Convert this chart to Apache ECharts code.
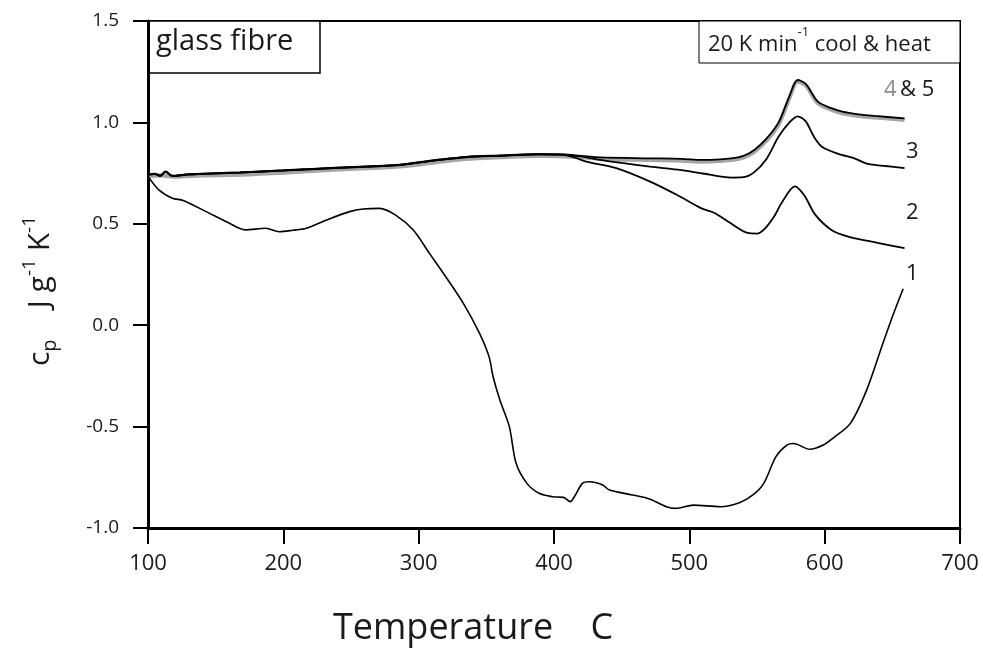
<!DOCTYPE html>
<html>
<head>
<meta charset="utf-8">
<script src="https://cdn.jsdelivr.net/npm/echarts@6/dist/echarts.min.js"></script>
<style>
  html, body { margin: 0; padding: 0; background: #fff; }
  #main { width: 983px; height: 655px; }
</style>
</head>
<body>
<div id="main"></div>
<script>
// run 1 (first heat)
var run1T = [100, 108, 118, 126, 143, 158, 172, 187, 197, 207, 217, 232, 249, 259, 271, 283, 296, 308, 320, 333, 345, 352, 355, 360, 367, 372, 380, 389, 399, 407, 412, 415, 421, 426, 436, 441, 458, 471, 483, 490, 503, 523, 537, 547, 555, 564, 572, 577, 589, 599, 606, 619, 631, 643, 651, 658];
var run1Cp = [0.735, 0.667, 0.626, 0.615, 0.560, 0.510, 0.470, 0.478, 0.461, 0.468, 0.478, 0.519, 0.560, 0.573, 0.576, 0.543, 0.469, 0.354, 0.239, 0.108, -0.040, -0.155, -0.254, -0.369, -0.500, -0.681, -0.780, -0.829, -0.846, -0.849, -0.870, -0.846, -0.780, -0.772, -0.788, -0.813, -0.837, -0.858, -0.895, -0.903, -0.887, -0.895, -0.875, -0.837, -0.780, -0.648, -0.591, -0.583, -0.612, -0.591, -0.558, -0.484, -0.320, -0.090, 0.059, 0.180];

// run 2
var run2T = [100, 105, 109, 113, 118, 130, 150, 168, 200, 242, 286, 316, 335, 360, 389, 407, 415, 424, 446, 471, 491, 509, 519, 530, 543, 550, 556, 563, 568, 578, 585, 593, 605, 618, 640, 659];
var run2Cp = [0.741, 0.745, 0.735, 0.757, 0.735, 0.742, 0.748, 0.752, 0.762, 0.776, 0.790, 0.815, 0.828, 0.835, 0.842, 0.840, 0.828, 0.806, 0.774, 0.708, 0.642, 0.576, 0.552, 0.505, 0.455, 0.452, 0.478, 0.540, 0.601, 0.685, 0.640, 0.545, 0.470, 0.436, 0.405, 0.380];

// run 3
var run3T = [100, 105, 109, 113, 118, 130, 150, 168, 200, 242, 286, 316, 335, 360, 389, 407, 420, 434, 450, 471, 494, 510, 531, 540, 548, 557, 566, 574, 580, 586, 592, 598, 610, 622, 632, 645, 659];
var run3Cp = [0.742, 0.746, 0.737, 0.756, 0.736, 0.744, 0.749, 0.753, 0.763, 0.777, 0.791, 0.816, 0.829, 0.836, 0.843, 0.841, 0.832, 0.815, 0.800, 0.782, 0.765, 0.748, 0.728, 0.730, 0.755, 0.820, 0.930, 1.000, 1.030, 1.005, 0.930, 0.880, 0.845, 0.823, 0.795, 0.785, 0.775];

// run 4 (grey) and run 5 (black)
var run4T = [100, 110, 120, 140, 170, 200, 242, 286, 316, 335, 360, 389, 407, 420, 434, 471, 494, 510, 531, 540, 548, 557, 566, 574, 580, 586, 595, 605, 613, 625, 637, 659];
var run4Cp = [0.735, 0.738, 0.732, 0.738, 0.742, 0.752, 0.768, 0.782, 0.806, 0.820, 0.828, 0.834, 0.832, 0.828, 0.820, 0.814, 0.811, 0.806, 0.814, 0.826, 0.855, 0.910, 0.990, 1.120, 1.200, 1.182, 1.094, 1.062, 1.045, 1.032, 1.024, 1.012];
var run5T = [100, 105, 109, 113, 118, 130, 150, 168, 200, 242, 286, 316, 335, 360, 389, 407, 420, 434, 471, 494, 510, 531, 540, 548, 557, 566, 574, 580, 586, 595, 605, 613, 625, 637, 659];
var run5Cp = [0.743, 0.747, 0.738, 0.758, 0.737, 0.745, 0.750, 0.754, 0.764, 0.778, 0.792, 0.817, 0.830, 0.837, 0.844, 0.842, 0.835, 0.828, 0.823, 0.820, 0.815, 0.823, 0.835, 0.864, 0.920, 1.000, 1.130, 1.209, 1.190, 1.102, 1.070, 1.053, 1.040, 1.032, 1.020];

var xTicks = [100, 200, 300, 400, 500, 600, 700];
var yTicks = [-1.0, -0.5, 0.0, 0.5, 1.0, 1.5];

function pairs(t, v) {
  return t.map(function (x, i) { return [x, v[i]]; });
}

var myChart = echarts.init(document.getElementById('main'));
var txt = '#1a1a1a';
var font = 'Open Sans';

option = {
  animation: false,
  grid: {
    left: 148, right: 23, top: 21, bottom: 127,
    show: true, borderColor: '#000', borderWidth: 2
  },
  xAxis: {
    type: 'value',
    min: xTicks[0], max: xTicks[xTicks.length - 1], interval: 100,
    splitLine: { show: false },
    axisLine: { onZero: false, lineStyle: { color: '#000', width: 3 } },
    axisTick: { length: 16, lineStyle: { color: '#000', width: 2 } },
    axisLabel: { color: txt, fontSize: 22, fontFamily: font, margin: 25 }
  },
  yAxis: {
    type: 'value',
    min: yTicks[0], max: yTicks[yTicks.length - 1], interval: 0.5,
    splitLine: { show: false },
    axisLine: { onZero: false, lineStyle: { color: '#000', width: 3 } },
    axisTick: { length: 15, lineStyle: { color: '#000', width: 2 } },
    axisLabel: {
      color: txt, fontSize: 19, fontFamily: font, margin: 29,
      formatter: function (v) { return v.toFixed(1); }
    }
  },
  series: [
    { name: '4', type: 'line', data: pairs(run4T, run4Cp), showSymbol: false, smooth: 0.3,
      lineStyle: { color: '#a6a6a6', width: 4 } },
    { name: '5', type: 'line', data: pairs(run5T, run5Cp), showSymbol: false, smooth: 0.3,
      lineStyle: { color: '#000', width: 1.8 } },
    { name: '3', type: 'line', data: pairs(run3T, run3Cp), showSymbol: false, smooth: 0.3,
      lineStyle: { color: '#000', width: 1.8 } },
    { name: '2', type: 'line', data: pairs(run2T, run2Cp), showSymbol: false, smooth: 0.3,
      lineStyle: { color: '#000', width: 1.8 } },
    { name: '1', type: 'line', data: pairs(run1T, run1Cp), showSymbol: false, smooth: 0.3,
      lineStyle: { color: '#000', width: 1.6 } }
  ],
  graphic: [
    // glass fibre box
    { type: 'rect', shape: { x: 148, y: 21, width: 172, height: 52 },
      style: { fill: '#fff', stroke: '#000', lineWidth: 1.5 } },
    { type: 'text', left: 156, top: 27,
      style: { text: 'glass fibre', fontSize: 29, fontFamily: font, fill: txt } },
    // rate box
    { type: 'rect', shape: { x: 699, y: 21, width: 261, height: 42 },
      style: { fill: '#fff', stroke: '#000', lineWidth: 1 } },
    { type: 'text', left: 708, top: 26,
      style: {
        text: '{a|20 K min}{s|-1}{a| cool & heat}',
        rich: {
          a: { fontSize: 22, fontFamily: font, fill: txt, lineHeight: 30, verticalAlign: 'bottom' },
          s: { fontSize: 13, fontFamily: font, fill: txt, lineHeight: 30, verticalAlign: 'top' }
        }
      } },
    // curve labels
    { type: 'text', left: 884, top: 79,
      style: {
        text: '{g|4} {b|& 5}',
        rich: {
          g: { fontSize: 22, fontFamily: font, fill: '#8c8c8c' },
          b: { fontSize: 22, fontFamily: font, fill: txt }
        }
      } },
    { type: 'text', left: 906, top: 141, style: { text: '3', fontSize: 22, fontFamily: font, fill: txt } },
    { type: 'text', left: 906, top: 202, style: { text: '2', fontSize: 22, fontFamily: font, fill: txt } },
    { type: 'text', left: 906, top: 263, style: { text: '1', fontSize: 22, fontFamily: font, fill: txt } },
    // axis titles
    { type: 'text', left: 333, top: 611,
      style: { text: 'Temperature    C', fontSize: 36, fontFamily: font, fill: txt } },
    { type: 'text', x: 40, y: 291, rotation: Math.PI / 2,
      style: {
        text: '{c|c}{p|p}{c|    J g}{s|-1}{c| K}{s|-1}',
        align: 'center', verticalAlign: 'middle',
        rich: {
          c: { fontSize: 30, fontFamily: font, fill: txt, lineHeight: 40, verticalAlign: 'middle' },
          p: { fontSize: 20, fontFamily: font, fill: txt, lineHeight: 40, verticalAlign: 'bottom' },
          s: { fontSize: 19, fontFamily: font, fill: txt, lineHeight: 40, verticalAlign: 'top' }
        }
      } }
  ]
};

myChart.setOption(option);
window.addEventListener('resize', function () {
  myChart.resize();
});
</script>
</body>
</html>
